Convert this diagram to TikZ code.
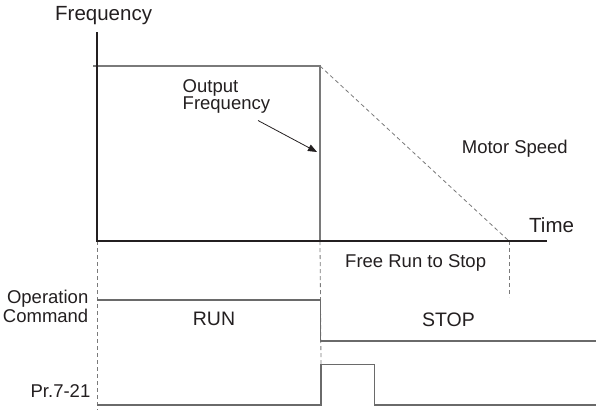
\documentclass[tikz,border=0pt]{standalone}
\usepackage{fontspec}
\setmainfont{Liberation Sans}
\usetikzlibrary{arrows.meta}
\definecolor{ink}{HTML}{231F20}
\definecolor{gline}{HTML}{6A6A6A}
\definecolor{dline}{HTML}{7A7A7A}
\begin{document}
\begin{tikzpicture}[x=1pt,y=-1pt,
  axis/.style={draw=ink,line width=1.6pt},
  sig/.style={draw=gline,line width=1.3pt},
  guide/.style={draw=dline,line width=0.8pt,dash pattern=on 4pt off 3pt},
  lbl/.style={text=ink,inner sep=0pt,font=\fontsize{18.5}{20}\selectfont},
  biglbl/.style={text=ink,inner sep=0pt,font=\fontsize{20.5}{22}\selectfont},
  stlbl/.style={text=ink,inner sep=0pt,font=\fontsize{19.5}{21}\selectfont}]
\useasboundingbox (0,0) rectangle (596,413);
% key points
\coordinate (ytop) at (97,32);
\coordinate (orig) at (97,241);
\coordinate (xend) at (547,241);
\coordinate (lvl0) at (93,66);
\coordinate (lvl1) at (320,66);
\coordinate (cut) at (320,241);
\coordinate (stopt) at (509,241);
\coordinate (stopb) at (509,297);
\coordinate (g0b) at (97,410);
\coordinate (g1b) at (321,364);
% op command
\coordinate (oa) at (97,300);
\coordinate (ob) at (320.5,300);
\coordinate (oc) at (320.5,341);
\coordinate (od) at (596,341);
% pulse
\coordinate (pa) at (97,405);
\coordinate (pb) at (321,405);
\coordinate (pc) at (321,364.5);
\coordinate (pd) at (374.5,364.5);
\coordinate (pe) at (374.5,405);
\coordinate (pf) at (596,405);
% arrow
\coordinate (arA) at (258,120.5);
\coordinate (arB) at (317,152);

% frequency plot
\draw[sig,draw=dline,line width=1.1pt] (lvl0) -- (lvl1) -- (cut);
\draw[guide] (lvl1) -- (stopt);
\draw[guide] (stopt) -- (stopb);
\draw[guide] (orig) -- (g0b);
\draw[guide] (cut) -- (g1b);
\draw[axis] (ytop) -- (orig) -- (xend);
\draw[draw=ink,line width=0.8pt,-{Triangle[length=9pt,width=7pt]}] (arA) -- (arB);

% signals
\draw[sig] (oa) -- (ob) -- (oc) -- (od);
\draw[sig] (pa) -- (pb) -- (pc) -- (pd) -- (pe) -- (pf);

% labels
\node[biglbl,anchor=base west] (freq) at (55,20.5) {Frequency};
\node[biglbl,anchor=base west] (time) at (529,232.5) {Time};
\node[lbl,anchor=base west] (out1) at (182.5,92) {Output};
\node[lbl,anchor=base west] (out2) at (182.5,109) {Frequency};
\node[lbl,anchor=base east] (ms) at (568,153.5) {Motor Speed};
\node[lbl,anchor=base west] (frs) at (345,267.5) {Free Run to Stop};
\node[lbl,anchor=base east] (op1) at (88.5,303) {Operation};
\node[lbl,anchor=base east] (op2) at (88.5,322.5) {Command};
\node[lbl,anchor=base east] (pr) at (90.5,397.5) {Pr.7-21};
\node[stlbl,anchor=base] (run) at (214,325) {RUN};
\node[stlbl,anchor=base] (stop) at (448.5,326.5) {STOP};
\end{tikzpicture}
\end{document}
